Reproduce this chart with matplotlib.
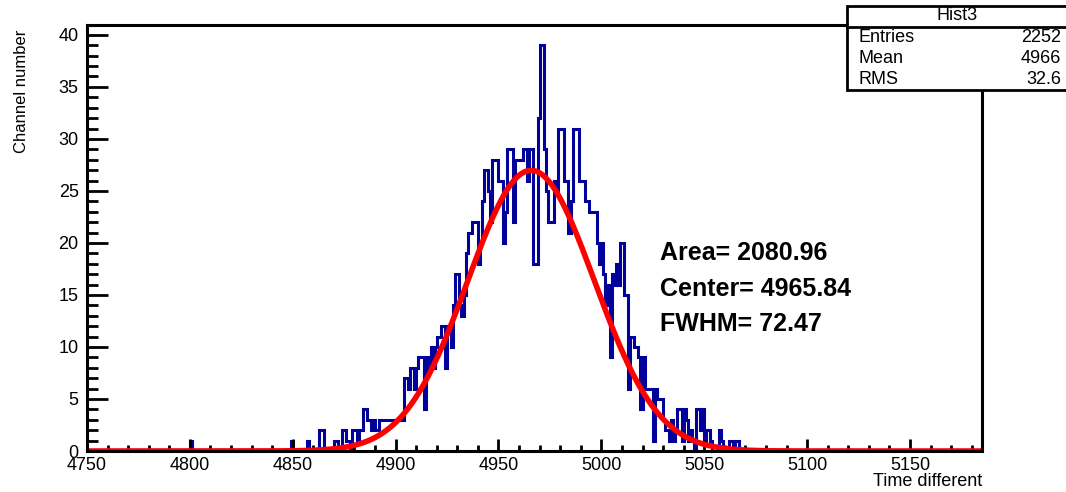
import matplotlib
matplotlib.use('Agg')
import matplotlib.pyplot as plt
import numpy as np
from matplotlib.patches import Rectangle

plt.rcParams['font.family'] = ['Liberation Sans', 'DejaVu Sans']

# histogram: unit-wide bins, counts start at first_bin
first_bin = 4800
counts = [
    1, 0, 0, 0, 0, 0, 0, 0, 0, 0,
    0, 0, 0, 0, 0, 0, 0, 0, 0, 0,
    0, 0, 0, 0, 0, 0, 0, 0, 0, 0,
    0, 0, 0, 0, 0, 0, 0, 0, 0, 0,
    0, 0, 0, 0, 0, 0, 0, 0, 0, 1,
    0, 0, 0, 0, 0, 0, 0, 1, 0, 0,
    0, 0, 0, 2, 2, 0, 0, 0, 0, 0,
    1, 1, 0, 0, 2, 2, 1, 1, 0, 2,
    2, 1, 2, 2, 4, 4, 3, 3, 2, 3,
    2, 2, 3, 3, 3, 3, 3, 3, 3, 3,
    3, 3, 3, 3, 7, 7, 6, 8, 8, 6,
    8, 9, 9, 9, 4, 9, 8, 10, 8, 10,
    11, 11, 12, 12, 8, 12, 12, 10, 14, 17,
    17, 14, 13, 15, 19, 21, 21, 22, 22, 22,
    18, 20, 24, 27, 27, 25, 22, 28, 28, 28,
    26, 26, 20, 23, 29, 29, 29, 22, 28, 28,
    28, 28, 29, 29, 26, 29, 29, 18, 18, 32,
    39, 39, 29, 25, 22, 22, 22, 26, 25, 31,
    31, 31, 26, 26, 21, 24, 31, 31, 31, 26,
    26, 26, 24, 24, 23, 23, 23, 23, 20, 18,
    20, 17, 14, 16, 9, 17, 16, 18, 16, 20,
    20, 15, 15, 6, 11, 11, 10, 10, 9, 4,
    9, 6, 6, 6, 6, 1, 6, 5, 5, 5,
    3, 2, 2, 1, 3, 1, 2, 4, 4, 1,
    4, 3, 1, 2, 1, 0, 4, 4, 2, 4,
    1, 2, 2, 1, 0, 0, 0, 2, 1, 0,
    0, 0, 1, 1, 0, 1, 1, 0, 0, 0,
]
x_min, x_max = 4750, 5185

# gaussian fit results
fit_area = 2080.96
fit_center = 4965.84
fit_fwhm = 72.47

stats_title = 'Hist3'
stats_names = ['Entries', 'Mean', 'RMS']
stats_values = ['2252', '4966', '32.6']

# full bin range over the axis
all_counts = np.zeros(x_max - x_min)
all_counts[first_bin - x_min:first_bin - x_min + len(counts)] = counts
edges = np.arange(x_min, x_max + 1)

fig = plt.figure(figsize=(10.66, 4.92), dpi=100)
ax = fig.add_axes([87 / 1066, 41 / 492, 895 / 1066, 426 / 492])

ax.stairs(all_counts, edges, color='#00009a', lw=2.2, baseline=None)

sigma = fit_fwhm / (2 * np.sqrt(2 * np.log(2)))
xf = np.linspace(x_min, x_max, 1000)
yf = fit_area / (sigma * np.sqrt(2 * np.pi)) * np.exp(-(xf - fit_center) ** 2 / (2 * sigma ** 2))
ax.plot(xf, yf, color='#ff0000', lw=4, solid_capstyle='butt')

ax.set_xlim(x_min, x_max)
ax.set_ylim(0, 40.95)
ax.set_xticks(np.arange(4750, 5151, 50))
ax.set_xticks(np.arange(4750, 5185, 10), minor=True)
ax.set_yticks(np.arange(0, 41, 5))
ax.set_yticks(np.arange(0, 41, 1), minor=True)
ax.tick_params(axis='both', which='both', direction='in', width=2, labelsize=13, colors='black')
ax.tick_params(axis='x', which='major', length=9, pad=4)
ax.tick_params(axis='x', which='minor', length=4.5)
ax.tick_params(axis='y', which='major', length=15, pad=6)
ax.tick_params(axis='y', which='minor', length=8)
for s in ax.spines.values():
    s.set_linewidth(2.2)

fig.text(22 / 1066, 1 - 30 / 492, 'Channel number', rotation=90, ha='center', va='top', fontsize=12)
fig.text(982 / 1066, 10 / 492, 'Time different', ha='right', va='center', fontsize=13)

fit_lines = [f'Area= {fit_area:.2f}', f'Center= {fit_center:.2f}', f'FWHM= {fit_fwhm:.2f}']
for i, t in enumerate(fit_lines):
    fig.text(660 / 1066, 1 - (253 + 35.5 * i) / 492, t, ha='left', va='center',
             fontsize=18, fontweight='bold')

# stats box
bx0, bx1, by0, by1 = 847, 1068, 6, 90
box = Rectangle((bx0 / 1066, 1 - by1 / 492), (bx1 - bx0) / 1066, (by1 - by0) / 492,
                transform=fig.transFigure, facecolor='white', edgecolor='black', lw=2, zorder=5)
fig.patches.append(box)
fig.add_artist(plt.Line2D([bx0 / 1066, bx1 / 1066], [1 - 27 / 492, 1 - 27 / 492],
                          transform=fig.transFigure, color='black', lw=2, zorder=6))
fig.text((bx0 + bx1) / 2 / 1066, 1 - 15 / 492, stats_title, ha='center', va='center', fontsize=13, zorder=7)
for i, (n, v) in enumerate(zip(stats_names, stats_values)):
    y = 1 - (37 + 21.5 * i) / 492
    fig.text(858 / 1066, y, n, ha='left', va='center', fontsize=13, zorder=7)
    fig.text(1061 / 1066, y, v, ha='right', va='center', fontsize=13, zorder=7)

fig.savefig('out.png', dpi=100)
